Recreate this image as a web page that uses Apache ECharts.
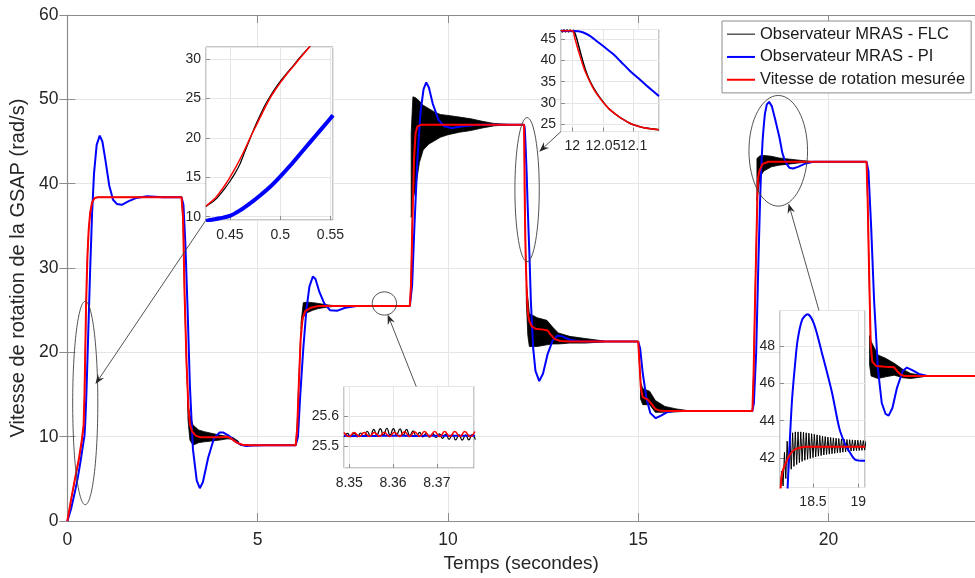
<!DOCTYPE html>
<html><head><meta charset="utf-8">
<script src="https://cdn.jsdelivr.net/npm/echarts@6/dist/echarts.min.js"></script>
<style>html,body{margin:0;padding:0;background:#fff;}#chart{width:975px;height:578px;}</style>
</head><body><div id="chart"></div>
<script>
// ---------------- DATA ----------------
const seriesNames = ['Observateur MRAS - FLC', 'Observateur MRAS - PI', 'Vitesse de rotation mesurée'];

// main plot: measured speed [t (s), speed (rad/s)]
const measuredMain = [[0,0],[0.1,2.6],[0.2,5.0],[0.3,7.3],[0.38,9.6],[0.4262,11.35],[0.45,15.0],[0.47,20.0],[0.49,25.2],[0.51,28.8],[0.53,31.7],[0.56,34.5],[0.6,36.6],[0.65,37.8],[0.72,38.3],[0.8,38.4],[3.0,38.4],[3.04,36],[3.08,27],[3.13,19],[3.18,13.5],[3.22,11.5],[3.28,10.6],[3.38,10.1],[3.5,9.95],[4.0,9.95],[4.2,10.0],[4.3,9.8],[4.45,9.3],[4.6,9.05],[4.8,9.0],[6.0,9.0],[6.04,11],[6.08,16],[6.13,21.5],[6.18,24.0],[6.25,24.9],[6.4,25.3],[6.6,25.5],[9.0,25.5],[9.03,28],[9.07,36],[9.11,43],[9.15,46],[9.2,46.8],[9.3,47.0],[12.0,47.0],[12.004,45.3],[12.01,42.3],[12.018,38.6],[12.026,35.8],[12.034,33.5],[12.05,30.2],[12.072,27.2],[12.094,25.2],[12.115,24.2],[12.14,23.7],[12.2,23.1],[12.3,22.8],[12.5,22.7],[12.62,22.6],[12.7,22.1],[12.8,21.6],[12.95,21.35],[13.2,21.3],[15.0,21.3],[15.03,19],[15.07,15.8],[15.12,14.7],[15.25,14.4],[15.35,13.9],[15.45,13.3],[15.55,13.1],[15.7,13.05],[18.0,13.05],[18.03,17],[18.07,26],[18.11,34],[18.143,40.4],[18.17,41.2],[18.2,41.7],[18.27,42.35],[18.42,42.6],[21.0,42.6],[21.03,38],[21.07,29],[21.11,21],[21.15,18.9],[21.25,18.4],[21.5,18.3],[21.72,18.25],[21.8,17.8],[21.9,17.35],[22.0,17.2],[23.9,17.2]];

// main plot: MRAS-PI observer
const piMain = [[0,0],[0.1,1.5],[0.2,3.5],[0.28,5.3],[0.35,7.2],[0.43,9.58],[0.45,10.1],[0.47,11.7],[0.49,13.8],[0.5,15.1],[0.52,18.0],[0.55,22.5],[0.6,30],[0.65,36.5],[0.7,41.2],[0.77,44.6],[0.85,45.7],[0.92,45.0],[1.0,42.8],[1.1,39.8],[1.2,38.1],[1.3,37.6],[1.43,37.5],[1.6,37.9],[1.8,38.3],[2.1,38.5],[2.5,38.4],[3.0,38.4],[3.05,37.5],[3.1,33],[3.16,25],[3.22,16],[3.3,8.5],[3.4,4.8],[3.48,3.9],[3.56,4.6],[3.7,7.5],[3.85,9.8],[4.0,10.5],[4.1,10.5],[4.25,10.1],[4.4,9.5],[4.55,9.05],[4.7,8.9],[4.9,8.95],[5.2,9.0],[6.0,9.0],[6.06,10],[6.12,15],[6.2,20.5],[6.28,25],[6.36,27.8],[6.45,29.0],[6.52,28.7],[6.62,27.2],[6.75,25.8],[6.9,25.0],[7.1,24.95],[7.3,25.3],[7.6,25.5],[9.0,25.5],[9.06,28],[9.12,35],[9.2,43],[9.28,48.5],[9.36,51.2],[9.43,52.0],[9.5,51.4],[9.6,49.5],[9.75,47.6],[9.9,46.8],[10.1,46.6],[10.4,46.8],[10.8,47.0],[12.0,47.0],[12.018,46.6],[12.04,44.6],[12.067,41.5],[12.094,37.6],[12.121,34.1],[12.1415,31.6],[12.18,26],[12.24,20.5],[12.3,17.8],[12.4,16.6],[12.5,17.5],[12.62,19.8],[12.75,21.4],[12.88,22.0],[13.0,21.9],[13.2,21.5],[13.5,21.3],[15.0,21.3],[15.05,20.5],[15.12,17.5],[15.22,14.5],[15.32,12.8],[15.46,12.2],[15.6,12.5],[15.75,12.9],[15.95,13.05],[18.0,13.05],[18.04,14],[18.1,20],[18.16,31],[18.2,37.6],[18.22,40.4],[18.245,43.0],[18.27,45.2],[18.3,46.9],[18.33,48.3],[18.38,49.4],[18.44,49.7],[18.51,49.2],[18.6,47.6],[18.71,45.5],[18.79,43.6],[18.85,42.8],[18.9,42.35],[18.97,41.9],[19.07,41.8],[19.2,42.0],[19.4,42.4],[19.6,42.6],[21.0,42.6],[21.05,41.5],[21.12,35],[21.2,26],[21.3,18],[21.4,14],[21.5,12.7],[21.58,12.5],[21.68,13.4],[21.8,15.8],[21.95,17.8],[22.06,18.2],[22.2,17.9],[22.4,17.4],[22.6,17.2],[23.9,17.2]];

// main plot: MRAS-FLC observer (mean trace)
const flcMain = [[0,0],[0.1,2.6],[0.2,5.0],[0.3,7.2],[0.38,9.5],[0.4262,11.3],[0.45,14.5],[0.47,19.9],[0.49,25.2],[0.51,28.8],[0.53,31.7],[0.56,34.5],[0.6,36.6],[0.65,37.8],[0.72,38.3],[0.8,38.4],[3.0,38.4],[3.04,35.5],[3.08,26.5],[3.13,18.5],[3.18,13.2],[3.22,11.3],[3.3,10.4],[3.5,10.0],[4.2,10.0],[4.3,9.8],[4.45,9.3],[4.6,9.05],[4.8,9.0],[6.0,9.0],[6.04,11.5],[6.08,16.5],[6.13,22],[6.18,24.2],[6.3,25.1],[6.6,25.5],[9.0,25.5],[9.03,28.5],[9.07,37],[9.11,43.5],[9.15,46.2],[9.25,46.9],[12.0,47.0],[12.005,46.4],[12.01,43.4],[12.018,39.0],[12.026,35.9],[12.034,33.6],[12.05,30.2],[12.072,27.2],[12.094,25.2],[12.115,24.2],[12.14,23.7],[12.3,22.8],[12.62,22.6],[12.8,21.6],[13.0,21.3],[15.0,21.3],[15.03,18.8],[15.07,15.6],[15.12,14.6],[15.3,14.3],[15.45,13.3],[15.6,13.05],[18.0,13.05],[18.03,17.5],[18.07,26.5],[18.11,34.5],[18.14,40.4],[18.2,41.8],[18.3,42.45],[18.45,42.6],[21.0,42.6],[21.03,37.5],[21.07,28.5],[21.11,20.5],[21.15,18.8],[21.3,18.35],[21.72,18.25],[21.85,17.6],[22.0,17.2],[23.9,17.2]];

// main plot: MRAS-FLC high-frequency ripple envelope [t, upper, lower]
const flcRipple1 = [[3.16,15.0,14.4],[3.17,13.8,12.0],[3.22,12.6,9.6],[3.3,11.4,9.0],[3.45,10.8,9.3],[3.6,10.6,9.4],[3.8,10.4,9.5],[4.0,10.2,9.6],[4.2,10.05,9.75],[4.35,9.9,9.7],[4.5,9.45,9.35]];
const flcRipple2 = [[6.14,23.5,22.8],[6.2,25.9,24.2],[6.3,25.95,24.7],[6.45,25.9,25.0],[6.6,25.8,25.2],[6.8,25.65,25.35],[7.0,25.55,25.45]];
const flcRipple3 = [[9.035,46,36],[9.08,50.3,38.0],[9.15,50.2,39.5],[9.25,49.8,42.5],[9.35,49.3,44.0],[9.5,48.9,44.7],[9.65,48.5,45.1],[9.8,48.2,45.5],[10.0,48.1,45.8],[10.3,47.9,46.1],[10.6,47.7,46.3],[10.9,47.4,46.6],[11.2,47.15,46.85],[11.6,47.02,46.98]];
const flcRipple4 = [[12.06,28,26],[12.1,26.4,22.0],[12.14,24.6,20.7],[12.35,24.1,20.7],[12.6,23.8,20.9],[12.75,23.0,21.0],[12.9,22.3,21.0],[13.2,21.9,21.1],[13.6,21.65,21.1],[14.1,21.35,21.25]];
const flcRipple5 = [[15.06,16.5,14.5],[15.12,15.7,13.8],[15.3,15.4,13.8],[15.45,14.3,12.9],[15.7,13.6,12.9],[16.0,13.3,12.95],[16.3,13.1,13.02]];
const flcRipple6 = [[18.12,43.0,38.0],[18.2,43.3,40.8],[18.3,43.35,41.5],[18.5,43.25,42.0],[18.7,43.05,42.2],[19.0,42.9,42.35],[19.3,42.75,42.5],[19.6,42.62,42.58]];
const flcRipple7 = [[21.08,22,18.5],[21.12,21.3,17.2],[21.3,19.7,16.9],[21.5,19.3,17.1],[21.73,18.7,17.3],[21.95,18.0,17.0],[22.16,17.5,16.9],[22.5,17.25,17.12]];
const flcRipples = [flcRipple1, flcRipple2, flcRipple3, flcRipple4, flcRipple5, flcRipple6, flcRipple7];

// zoom 1 (0.43 - 0.55 s)
const zoom1Measured = [[0.4262,11.35],[0.435,12.3],[0.44,13.1],[0.445,14.0],[0.45,15.0],[0.455,16.1],[0.46,17.3],[0.465,18.6],[0.47,20.0],[0.475,21.3],[0.48,22.6],[0.485,23.9],[0.49,25.1],[0.495,26.1],[0.5,27.0],[0.507,28.2],[0.513,29.1],[0.52,30.2],[0.53,31.7]];
const zoom1FLC = [[0.4262,11.3],[0.435,12.1],[0.44,12.8],[0.445,13.6],[0.45,14.5],[0.455,15.5],[0.46,16.7],[0.465,18.3],[0.47,19.9],[0.475,21.5],[0.48,22.9],[0.485,24.2],[0.49,25.3],[0.495,26.3],[0.5,27.2],[0.507,28.3],[0.513,29.2],[0.52,30.3],[0.53,31.7]];
const zoom1PI = [[0.4262,9.45],[0.43,9.58],[0.44,9.8],[0.45,10.1],[0.46,10.8],[0.47,11.7],[0.48,12.7],[0.49,13.8],[0.5,15.1],[0.51,16.5],[0.52,18.0],[0.53,19.5],[0.54,21.0],[0.55,22.5],[0.5525,22.9]];

// zoom 2 (8.35 - 8.378 s)
const zoom2FLC = [[8.3488,25.531],[8.3496,25.543],[8.3503,25.531],[8.3511,25.543],[8.3518,25.531],[8.3526,25.544],[8.3533,25.532],[8.3541,25.550],[8.3548,25.534],[8.3556,25.556],[8.3563,25.537],[8.3571,25.559],[8.3578,25.537],[8.3586,25.560],[8.3593,25.537],[8.3601,25.559],[8.3608,25.537],[8.3616,25.558],[8.3623,25.536],[8.3631,25.556],[8.3638,25.535],[8.3646,25.551],[8.3653,25.533],[8.3661,25.546],[8.3668,25.531],[8.3676,25.543],[8.3683,25.530],[8.3691,25.542],[8.3698,25.529],[8.3706,25.541],[8.3713,25.526],[8.3721,25.540],[8.3728,25.523],[8.3736,25.539],[8.3743,25.521],[8.3751,25.538],[8.3758,25.520],[8.3766,25.538],[8.3773,25.521],[8.3781,25.539],[8.3788,25.522]];
const zoom2Measured = [[8.3488,25.546],[8.3500,25.532],[8.3511,25.546],[8.3523,25.532],[8.3534,25.546],[8.3546,25.532],[8.3557,25.546],[8.3569,25.532],[8.3580,25.547],[8.3592,25.532],[8.3603,25.547],[8.3615,25.532],[8.3626,25.548],[8.3638,25.532],[8.3649,25.548],[8.3661,25.532],[8.3672,25.549],[8.3684,25.532],[8.3695,25.549],[8.3707,25.532],[8.3718,25.549],[8.3730,25.532],[8.3741,25.549],[8.3753,25.532],[8.3764,25.549],[8.3776,25.532],[8.3787,25.549]];
const zoom2PI = [[8.3488,25.535],[8.355,25.534],[8.36,25.535],[8.365,25.534],[8.37,25.535],[8.3788,25.535]];

// zoom 3 (12.0 - 12.14 s)
const zoom3Measured = [[11.9816,47.0],[12.0,47.0],[12.004,45.3],[12.01,42.3],[12.018,38.6],[12.026,35.8],[12.034,33.5],[12.042,31.7],[12.05,30.2],[12.06,28.6],[12.072,27.2],[12.083,26.1],[12.094,25.2],[12.105,24.6],[12.115,24.2],[12.128,23.9],[12.1415,23.7]];
const zoom3FLC = [[11.9816,47.2],[11.984,46.7],[11.9865,47.2],[11.989,46.7],[11.9915,47.2],[11.994,46.7],[11.9965,47.2],[11.999,46.8],[12.0015,47.1],[12.004,46.6],[12.008,44.8],[12.014,41.5],[12.022,37.6],[12.03,34.8],[12.04,32.3],[12.05,30.3],[12.06,28.6],[12.072,27.2],[12.083,26.1],[12.094,25.2],[12.105,24.6],[12.115,24.2],[12.128,23.9],[12.1415,23.7]];
const zoom3PI = [[11.9816,47.0],[12.0,46.95],[12.01,46.9],[12.018,46.6],[12.03,45.7],[12.0397,44.6],[12.053,43.1],[12.0667,41.5],[12.08,39.6],[12.0938,37.6],[12.108,35.8],[12.121,34.1],[12.1415,31.6]];

// zoom 4 (18.15 - 19.07 s)
const zoom4FLC = [[18.14,40.4],[18.155,41.3],[18.17,40.5],[18.185,42.3],[18.2,40.9],[18.215,42.9],[18.23,41.2],[18.245,43.2],[18.26,41.4],[18.275,43.35],[18.29,41.55],[18.305,43.4],[18.32,41.65],[18.335,43.4],[18.35,41.75],[18.365,43.4],[18.38,41.82],[18.395,43.38],[18.41,41.88],[18.425,43.35],[18.44,41.93],[18.455,43.33],[18.47,41.98],[18.485,43.3],[18.5,42.02],[18.515,43.27],[18.53,42.06],[18.545,43.24],[18.56,42.1],[18.575,43.21],[18.59,42.13],[18.605,43.18],[18.62,42.16],[18.635,43.15],[18.65,42.19],[18.665,43.12],[18.68,42.21],[18.695,43.1],[18.71,42.23],[18.725,43.08],[18.74,42.25],[18.755,43.06],[18.77,42.27],[18.785,43.04],[18.8,42.29],[18.815,43.02],[18.83,42.31],[18.845,43.0],[18.86,42.33],[18.875,42.99],[18.89,42.35],[18.905,42.98],[18.92,42.37],[18.935,42.97],[18.95,42.38],[18.965,42.96],[18.98,42.39],[18.995,42.95],[19.01,42.4],[19.025,42.94],[19.04,42.41],[19.055,42.93],[19.07,42.42],[19.085,42.92]];
const zoom4Measured = [[18.136,39.9],[18.143,40.4],[18.16,41.2],[18.2,41.74],[18.235,42.1],[18.27,42.34],[18.32,42.5],[18.42,42.6],[19.074,42.6]];
const zoom4PI = [[18.2,37.6],[18.22,40.4],[18.245,43.0],[18.27,45.2],[18.3,46.9],[18.33,48.3],[18.38,49.4],[18.44,49.7],[18.51,49.2],[18.6,47.6],[18.71,45.5],[18.79,43.6],[18.85,42.8],[18.9,42.35],[18.97,41.9],[19.074,41.85]];

// axis ranges / ticks: [min, max, step]
const mainX = [0, 23.85, 5];
const mainY = [0, 60, 10];
const zoomRanges = [
  {x: [0.4262, 0.5525, 0.05], y: [9.58, 31.56, 5]},
  {x: [8.3488, 8.3785, 0.01], y: [25.4267, 25.7, 0.1]},
  {x: [11.9816, 12.1415, 0.05], y: [23.26, 47.3, 5]},
  {x: [18.136, 19.074, 0.5], y: [40.42, 49.9, 2]}
];

// annotation ellipses in data units [t, v, radius t, radius v] and arrows
const ellipseNotes = [[0.47, 14.0, 0.33, 12.06], [8.33, 25.8, 0.32, 1.38], [12.08, 39.3, 0.32, 8.54], [18.68, 43.9, 0.77, 6.56]];
const arrowNotes = [
  {zoom: 1, from: [0.4262, 9.58], to: [0.738, 16.24]},
  {zoom: 2, from: [8.3653, 25.7], to: [8.416, 24.5]},
  {zoom: 3, from: [11.9816, 23.26], to: [12.4, 43.8]},
  {zoom: 4, from: [18.566, 49.9], to: [18.95, 37.66]}
];

// ---------------- STYLE / LAYOUT ----------------
const FONT = "'Liberation Sans', Arial, sans-serif";
const TXT = '#262626';
const AX = '#8c8c8c';
const GRIDC = '#e6e6e6';
const COL = ['#000000', '#0000ff', '#ff0000'];
const LEGEND_ICONS = ['path://M0 0H28V1H0Z', 'path://M0 0H14V1H0Z', 'path://M0 0H14V1H0Z'];
const zoomBoxes = [
  {left: 206, top: 47, width: 127, height: 173},
  {left: 344, top: 386.5, width: 130, height: 81.5},
  {left: 561, top: 29.5, width: 98, height: 102},
  {left: 780, top: 310.5, width: 85, height: 177}
];

const chart = echarts.init(document.getElementById('chart'), null, {renderer: 'canvas'});

const grids = [{left: 64, top: 15, width: 911, height: 510, show: false}];
const xAxes = [
  {gridIndex: 0, type: 'value', min: mainX[0], max: mainX[1], interval: mainX[2],
   name: 'Temps (secondes)', nameLocation: 'middle', nameGap: 31,
   nameTextStyle: {fontSize: 19, color: TXT, fontFamily: FONT},
   axisLine: {onZero: false, lineStyle: {color: AX, width: 1.2}},
   axisTick: {inside: true, length: 8, lineStyle: {color: AX}},
   axisLabel: {fontSize: 17.5, color: TXT, fontFamily: FONT, margin: 10, showMaxLabel: false},
   splitLine: {show: true, lineStyle: {color: GRIDC}}},
  {gridIndex: 0, type: 'value', position: 'top', min: mainX[0], max: mainX[1], interval: mainX[2],
   axisLine: {onZero: false, lineStyle: {color: AX, width: 1.2}},
   axisTick: {inside: true, length: 8, lineStyle: {color: AX}},
   axisLabel: {show: false}, splitLine: {show: false}}
];
const yAxes = [
  {gridIndex: 0, type: 'value', min: mainY[0], max: mainY[1], interval: mainY[2],
   name: 'Vitesse de rotation de la GSAP (rad/s)', nameLocation: 'middle', nameGap: 32,
   nameTextStyle: {fontSize: 20, color: TXT, fontFamily: FONT},
   axisLine: {show: true, onZero: false, lineStyle: {color: AX, width: 1.2}},
   axisTick: {show: true, inside: true, length: 8, lineStyle: {color: AX}},
   axisLabel: {fontSize: 17.5, color: TXT, fontFamily: FONT, margin: 9},
   splitLine: {show: true, lineStyle: {color: GRIDC}}},
  {gridIndex: 0, type: 'value', position: 'right', min: mainY[0], max: mainY[1], interval: mainY[2],
   axisLine: {show: false}, axisTick: {show: true, inside: true, length: 8, lineStyle: {color: AX}},
   axisLabel: {show: false}, splitLine: {show: false}}
];

zoomBoxes.forEach((b, i) => {
  const gi = i + 1;
  const r = zoomRanges[i];
  grids.push(Object.assign({show: true, backgroundColor: '#fff', borderColor: AX, borderWidth: 1, z: 5}, b));
  const common = {
    gridIndex: gi, type: 'value', z: 6,
    axisLine: {show: false},
    axisTick: {show: true, inside: true, length: 4, lineStyle: {color: AX}},
    splitLine: {show: true, lineStyle: {color: GRIDC}}
  };
  xAxes.push(Object.assign({}, common, {min: r.x[0], max: r.x[1], minInterval: r.x[2], maxInterval: r.x[2],
    axisLabel: {fontSize: 14, color: TXT, fontFamily: FONT, margin: 8, showMinLabel: false, showMaxLabel: false}}));
  yAxes.push(Object.assign({}, common, {min: r.y[0], max: r.y[1], minInterval: r.y[2], maxInterval: r.y[2],
    axisLabel: {fontSize: 14, color: TXT, fontFamily: FONT, margin: 5, showMinLabel: false, showMaxLabel: false}}));
});

function lineSeries(nameIdx, data, axisIdx, width, z, smooth) {
  return {
    type: 'line', name: seriesNames[nameIdx], data: data,
    xAxisIndex: axisIdx, yAxisIndex: axisIdx,
    symbol: 'none', showSymbol: false, smooth: smooth || false,
    lineStyle: {color: COL[nameIdx], width: width},
    itemStyle: {color: COL[nameIdx]},
    z: z, silent: true, animation: false, emphasis: {disabled: true}
  };
}

const series = [
  lineSeries(0, flcMain, 0, 1, 2),
  {
    type: 'custom', name: seriesNames[0], xAxisIndex: 0, yAxisIndex: 0, z: 2, silent: true,
    data: flcRipples.map(b => [b[0][0], b[0][1]]), encode: {x: 0, y: 1},
    renderItem: function (params, api) {
      const b = flcRipples[params.dataIndex];
      const top = b.map(p => api.coord([p[0], p[1]]));
      const bot = b.slice().reverse().map(p => api.coord([p[0], p[2]]));
      return {type: 'polygon', shape: {points: top.concat(bot)},
              style: {fill: '#000', stroke: '#000', lineWidth: 0.8}};
    }
  },
  lineSeries(1, piMain, 0, 2, 2),
  lineSeries(2, measuredMain, 0, 2, 2),
  // zoom 1
  lineSeries(0, zoom1FLC, 2, 1.2, 7, 0.3),
  lineSeries(1, zoom1PI, 2, 4, 7, 0.3),
  lineSeries(2, zoom1Measured, 2, 1.5, 7, 0.3),
  // zoom 2
  lineSeries(0, zoom2FLC, 3, 1.2, 7, 0.5),
  lineSeries(1, zoom2PI, 3, 2, 7, 0.3),
  lineSeries(2, zoom2Measured, 3, 1.5, 7, 0.5),
  // zoom 3
  lineSeries(0, zoom3FLC, 4, 1.5, 7, 0.3),
  lineSeries(1, zoom3PI, 4, 2, 7, 0.3),
  lineSeries(2, zoom3Measured, 4, 1.5, 7, 0.3),
  // zoom 4
  lineSeries(0, zoom4FLC, 5, 1, 7),
  lineSeries(1, zoom4PI, 5, 2, 7, 0.3),
  lineSeries(2, zoom4Measured, 5, 2, 7, 0.3)
];

const option = {
  animation: false,
  backgroundColor: '#fff',
  textStyle: {fontFamily: FONT},
  grid: grids,
  xAxis: xAxes,
  yAxis: yAxes,
  legend: {
    orient: 'vertical', left: 722, top: 21, z: 10,
    padding: [2, 6, 2, 5], itemGap: 0.5, itemWidth: 28, itemHeight: 14,
    symbolKeepAspect: true,
    backgroundColor: '#fff', borderColor: AX, borderWidth: 1, borderRadius: 0,
    textStyle: {fontFamily: FONT, fontSize: 16.5, color: '#1a1a1a', lineHeight: 22.3},
    data: seriesNames.map((n, i) => ({name: n, icon: LEGEND_ICONS[i], itemStyle: {color: COL[i], borderWidth: 0}})),
    selectedMode: false
  },
  series: series
};
chart.setOption(option);

// annotations (ellipses + arrows), positioned through the chart's own scales
const g = [];
ellipseNotes.forEach(e => {
  const c = chart.convertToPixel({gridIndex: 0}, [e[0], e[1]]);
  const px = chart.convertToPixel({gridIndex: 0}, [e[0] + e[2], e[1] + e[3]]);
  g.push({type: 'ellipse', z: 20, silent: true,
          shape: {cx: c[0], cy: c[1], rx: Math.abs(px[0] - c[0]), ry: Math.abs(c[1] - px[1])},
          style: {fill: null, stroke: '#404040', lineWidth: 0.9}});
});
arrowNotes.forEach(a => {
  const s = chart.convertToPixel({gridIndex: a.zoom}, a.from);
  const t = chart.convertToPixel({gridIndex: 0}, a.to);
  const dx = t[0] - s[0], dy = t[1] - s[1];
  const len = Math.sqrt(dx * dx + dy * dy);
  const ux = dx / len, uy = dy / len, nx = -uy, ny = ux;
  const L = 10, W = 3.8;
  const back = [t[0] - ux * L, t[1] - uy * L];
  const notch = [t[0] - ux * L * 0.65, t[1] - uy * L * 0.65];
  g.push({type: 'line', z: 20, silent: true,
          shape: {x1: s[0], y1: s[1], x2: notch[0], y2: notch[1]},
          style: {stroke: '#404040', lineWidth: 0.9}});
  g.push({type: 'polygon', z: 20, silent: true,
          shape: {points: [t, [back[0] + nx * W, back[1] + ny * W], notch, [back[0] - nx * W, back[1] - ny * W]]},
          style: {fill: '#262626', stroke: null}});
});
chart.setOption({graphic: g});
</script></body></html>
